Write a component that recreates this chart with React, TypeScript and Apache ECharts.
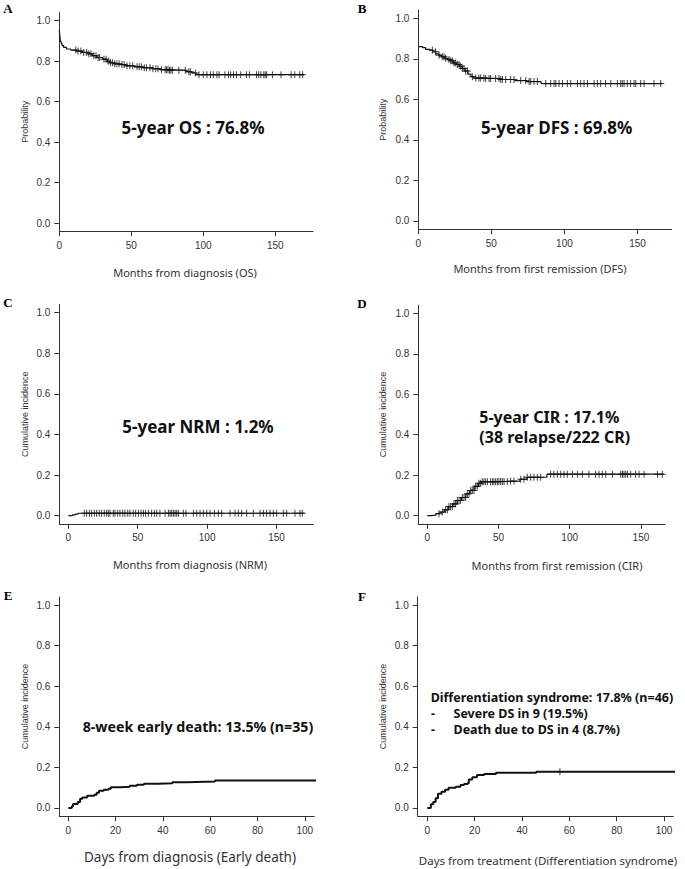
import React, { useEffect, useRef } from "react";
import * as echarts from "echarts";

// ---------- DATA ----------
// A: Overall survival (months from diagnosis)
const osTimes = [0, 0.3, 0.6, 1, 1.5, 2, 3, 5, 8, 12, 16, 20, 23, 26, 30, 33, 35, 38, 42, 46, 52, 58, 65, 70, 76, 88, 92, 95];
const osProb = [0.955, 0.93, 0.91, 0.895, 0.885, 0.877, 0.868, 0.86, 0.855, 0.85, 0.843, 0.836, 0.827, 0.818, 0.81, 0.8, 0.792, 0.787, 0.783, 0.777, 0.772, 0.768, 0.763, 0.758, 0.755, 0.748, 0.742, 0.733];
const osCensor = [11.5, 13, 15, 17, 19, 20.5, 22, 24, 25.5, 27, 28, 31, 32.5, 34, 35.5, 37, 38.5, 40, 41.5, 43.5, 45, 47, 49, 51, 54, 55.5, 57, 59, 60.5, 63, 65, 67, 68.5, 71, 73.5, 74.5, 75.5, 76.5, 77.5, 78.5, 83, 87.5, 90, 91, 94.5, 97, 100, 102.5, 105, 107, 109.5, 111, 115, 117.5, 119, 121, 123, 126, 130, 132, 137, 138.5, 140, 142, 143, 144, 148, 154, 161, 163.5, 167, 169];
const osEnd = 170;

// B: Disease-free survival (months from first remission)
const dfsTimes = [0, 3, 5, 8, 10, 12, 14, 16, 18, 20, 22, 24, 26, 28, 30, 32, 34, 36, 38, 46, 56, 66, 74, 84];
const dfsProb = [0.86, 0.855, 0.847, 0.843, 0.835, 0.825, 0.818, 0.81, 0.803, 0.797, 0.79, 0.78, 0.772, 0.763, 0.752, 0.74, 0.725, 0.712, 0.705, 0.703, 0.698, 0.693, 0.688, 0.678];
const dfsCensor = [9.6, 11.9, 14.2, 16.4, 17.6, 18.7, 21, 22.2, 23.3, 24.4, 25.6, 26.7, 27.9, 29, 30.1, 31.3, 32.4, 33.6, 37, 39.3, 41.5, 42.7, 44.9, 46.1, 48.4, 49.5, 52.9, 55.2, 56.4, 57.5, 59.8, 63.2, 65.5, 70.1, 73.5, 75.8, 76.9, 79.2, 81.5, 87.2, 90.6, 92.9, 94.1, 96.3, 98.6, 102, 104.3, 108.9, 111.1, 113.4, 115.7, 120.3, 122.5, 124.8, 128.2, 131.7, 136.2, 138.5, 139.6, 140.8, 143, 145.3, 147.6, 148.8, 152.2, 154.5, 161.3, 165.9];
const dfsEnd = 167;

// C: Non-relapse mortality (months from diagnosis)
const nrmTimes = [0, 3, 5, 7];
const nrmInc = [0, 0.004, 0.008, 0.012];
const nrmCensor = [11.5, 13.2, 15.2, 16.8, 18.8, 20.4, 22.3, 24, 25.9, 27.6, 28.8, 30, 32.4, 33.6, 35.6, 37.2, 39.2, 40.8, 42.8, 44.4, 46.8, 48.5, 50.5, 52.4, 54.1, 55.7, 57.7, 60, 62, 63.7, 66, 69.7, 72.1, 73.3, 74.5, 75.7, 76.9, 78.1, 79.3, 82.9, 84.8, 90.1, 92.5, 94.9, 97.3, 99.7, 102.1, 105.2, 108.1, 110.5, 116.5, 120.1, 122.5, 124.9, 128.5, 133.3, 138.1, 140.5, 142.9, 145.3, 147.7, 150.1, 154.9, 157.3, 163.3, 166.9, 168.6];
const nrmEnd = 170;

// D: Cumulative incidence of relapse (months from first remission)
const cirTimes = [0, 3, 6, 9, 12, 15, 18, 21, 24, 27, 30, 33, 36, 38, 50, 58, 65, 70, 84];
const cirInc = [0, 0.003, 0.01, 0.018, 0.03, 0.045, 0.058, 0.075, 0.09, 0.108, 0.125, 0.145, 0.16, 0.168, 0.169, 0.171, 0.18, 0.19, 0.205];
const cirCensor = [8.2, 10.6, 12.9, 14.1, 15.2, 16.4, 17.6, 18.8, 19.9, 21.1, 22.3, 23.4, 24.6, 25.8, 26.9, 28.1, 29.3, 30.5, 31.6, 32.8, 34, 35.1, 36.3, 37.5, 38.6, 39.8, 41, 42.2, 44.5, 45.7, 46.8, 48, 49.2, 50.3, 51.5, 52.7, 53.9, 56.2, 58.5, 60.9, 65.6, 67.9, 70.2, 72.6, 74.9, 77.3, 79.6, 86.6, 88.9, 91.3, 93.7, 96, 98.3, 101.9, 105.4, 108.9, 113.5, 118.2, 120.6, 122.9, 125.3, 130, 135.8, 137, 138.1, 139.3, 140.5, 142.8, 146.3, 148.7, 152.2, 161.6, 165];
const cirEnd = 166;

// E: Early death (days from diagnosis)
const edTimes = [0, 1.5, 2, 4, 5, 6, 8, 11, 12, 13, 15, 17, 18, 22, 26, 29, 32, 38, 44, 50, 62];
const edInc = [0, 0.008, 0.02, 0.03, 0.045, 0.052, 0.06, 0.065, 0.075, 0.085, 0.09, 0.095, 0.102, 0.105, 0.11, 0.115, 0.12, 0.122, 0.127, 0.13, 0.135];
const edCensor: number[] = [];
const edEnd = 110;

// F: Differentiation syndrome (days from treatment)
const dsTimes = [0, 1.5, 2.5, 3.5, 4.5, 6, 7.5, 9, 12, 14, 15.5, 17, 17.5, 19, 21, 24, 29, 46];
const dsInc = [0, 0.018, 0.03, 0.048, 0.07, 0.08, 0.09, 0.1, 0.105, 0.113, 0.118, 0.122, 0.14, 0.152, 0.162, 0.167, 0.174, 0.178];
const dsCensor = [56];
const dsEnd = 110;

const yTicks = [0, 0.2, 0.4, 0.6, 0.8, 1.0];
const monthTicks = [0, 50, 100, 150];
const dayTicks = [0, 20, 40, 60, 80, 100];

// ---------- helpers ----------
function stepValue(times: number[], vals: number[], t: number) {
  let v = vals[0];
  for (let i = 0; i < times.length; i++) {
    if (times[i] <= t) v = vals[i];
    else break;
  }
  return v;
}

const PLUS = "path://M3,0 L4,0 L4,3 L7,3 L7,4 L4,4 L4,7 L3,7 L3,4 L0,4 L0,3 L3,3 Z";

type Panel = {
  letter: string;
  lx: number; ly: number;
  left: number; top: number; width: number; height: number;
  xmin: number; xmax: number; xticks: number[];
  times: number[]; vals: number[]; censor: number[]; end: number;
  lineWidth: number;
  yTitle: string; yTitleX: number;
  xTitle: string; xTitleX: number; xTitleY: number; xTitleSize: number;
};

const panels: Panel[] = [
  { letter: "A", lx: 8, ly: 8, left: 59.3, top: 12.6, width: 253.7, height: 218.5, xmin: 0, xmax: 176.2, xticks: monthTicks,
    times: osTimes, vals: osProb, censor: osCensor, end: osEnd, lineWidth: 1.2,
    yTitle: "Probability", yTitleX: 25, xTitle: "Months from diagnosis (OS)", xTitleX: 185, xTitleY: 272, xTitleSize: 11 },
  { letter: "B", lx: 362, ly: 8, left: 418.3, top: 10.2, width: 253.4, height: 218.9, xmin: 0, xmax: 173.4, xticks: monthTicks,
    times: dfsTimes, vals: dfsProb, censor: dfsCensor, end: dfsEnd, lineWidth: 1.2,
    yTitle: "Probability", yTitleX: 383.3, xTitle: "Months from first remission (DFS)", xTitleX: 540, xTitleY: 268.5, xTitleSize: 11 },
  { letter: "C", lx: 8, ly: 302.5, left: 59.3, top: 304.6, width: 254, height: 219.2, xmin: -6.5, xmax: 176.5, xticks: monthTicks,
    times: nrmTimes, vals: nrmInc, censor: nrmCensor, end: nrmEnd, lineWidth: 1.2,
    yTitle: "Cumulative incidence", yTitleX: 25, xTitle: "Months from diagnosis (NRM)", xTitleX: 190, xTitleY: 564, xTitleSize: 11 },
  { letter: "D", lx: 362, ly: 303.5, left: 418.3, top: 305.2, width: 246.7, height: 218.6, xmin: -6.3, xmax: 166.9, xticks: monthTicks,
    times: cirTimes, vals: cirInc, censor: cirCensor, end: cirEnd, lineWidth: 1.2,
    yTitle: "Cumulative incidence", yTitleX: 383.3, xTitle: "Months from first remission (CIR)", xTitleX: 557, xTitleY: 565, xTitleSize: 11 },
  { letter: "E", lx: 8, ly: 595, left: 59.3, top: 596.9, width: 255, height: 219.2, xmin: -3.8, xmax: 104, xticks: dayTicks,
    times: edTimes, vals: edInc, censor: edCensor, end: edEnd, lineWidth: 2,
    yTitle: "Cumulative incidence", yTitleX: 25, xTitle: "Days from diagnosis (Early death)", xTitleX: 190, xTitleY: 856.7, xTitleSize: 13.5 },
  { letter: "F", lx: 362, ly: 596, left: 417.7, top: 596.9, width: 255.6, height: 219.2, xmin: -4.06, xmax: 103.9, xticks: dayTicks,
    times: dsTimes, vals: dsInc, censor: dsCensor, end: dsEnd, lineWidth: 2,
    yTitle: "Cumulative incidence", yTitleX: 383.3, xTitle: "Days from treatment (Differentiation syndrome)", xTitleX: 548, xTitleY: 860, xTitleSize: 11.5 },
];

const TICK_FONT = "'Liberation Sans', Arial, sans-serif";
const TITLE_FONT = "'Noto Sans', 'Open Sans', sans-serif";

function buildOption() {
  const grid: any[] = [];
  const xAxis: any[] = [];
  const yAxis: any[] = [];
  const series: any[] = [];
  const graphic: any[] = [];

  panels.forEach((p, i) => {
    grid.push({ left: p.left, top: p.top, width: p.width, height: p.height, containLabel: false });
    xAxis.push({
      type: "value", gridIndex: i, min: p.xmin, max: p.xmax,
      axisLine: { show: true, onZero: false, lineStyle: { color: "#333", width: 1 } },
      axisTick: { show: true, inside: false, length: 5, customValues: p.xticks, lineStyle: { color: "#333" } },
      axisLabel: { show: true, customValues: p.xticks, margin: 9, color: "#333", fontSize: 10, fontFamily: TICK_FONT },
      splitLine: { show: false },
    });
    yAxis.push({
      type: "value", gridIndex: i, min: -0.04, max: 1.04,
      axisLine: { show: true, onZero: false, lineStyle: { color: "#333", width: 1 } },
      axisTick: { show: true, inside: false, length: 5, customValues: yTicks, lineStyle: { color: "#333" } },
      axisLabel: { show: true, customValues: yTicks, margin: 9, color: "#333", fontSize: 10, fontFamily: TICK_FONT,
        formatter: (v: number) => v.toFixed(1) },
      splitLine: { show: false },
    });
    const lineData = p.times.map((t, k) => [t, p.vals[k]]);
    lineData.push([p.end, p.vals[p.vals.length - 1]]);
    series.push({
      type: "line", xAxisIndex: i, yAxisIndex: i, step: "end", symbol: "none", clip: true,
      data: lineData, lineStyle: { color: "#111", width: p.lineWidth },
    });
    if (p.censor.length) {
      series.push({
        type: "scatter", xAxisIndex: i, yAxisIndex: i, symbol: PLUS, symbolSize: 7, clip: true,
        data: p.censor.map((t) => [t, stepValue(p.times, p.vals, t)]),
        itemStyle: { color: "#111" },
      });
    }
    graphic.push({
      type: "text", x: p.lx, y: p.ly,
      style: { text: p.letter, fontFamily: "'Liberation Serif', 'Times New Roman', serif", fontWeight: "bold", fontSize: 13,
        fill: "#000", align: "center", verticalAlign: "middle" },
    });
    graphic.push({
      type: "text", x: p.yTitleX, y: p.top + p.height / 2, rotation: Math.PI / 2,
      style: { text: p.yTitle, fontFamily: TICK_FONT, fontSize: 9, fill: "#333", align: "center", verticalAlign: "middle" },
    });
    graphic.push({
      type: "text", x: p.xTitleX, y: p.xTitleY,
      style: { text: p.xTitle, fontFamily: TITLE_FONT, fontSize: p.xTitleSize, fill: "#333", align: "center", verticalAlign: "middle" },
    });
  });

  const ann = (text: string, x: number, y: number, size: number, align = "center") => ({
    type: "text", x, y,
    style: { text, fontFamily: TITLE_FONT, fontWeight: "bold", fontSize: size, fill: "#111", align, verticalAlign: "middle" },
  });
  graphic.push(ann("5-year OS : 76.8%", 193, 127, 17));
  graphic.push(ann("5-year DFS : 69.8%", 556.7, 127, 17));
  graphic.push(ann("5-year NRM : 1.2%", 198, 426.7, 17));
  graphic.push(ann("5-year CIR : 17.1%", 479.3, 416.5, 16));
  graphic.push(ann("(38 relapse/222 CR)", 479.3, 436.5, 16, "left"));
  graphic.push(ann("8-week early death: 13.5% (n=35)", 82.7, 726.7, 14.2, "left"));
  graphic.push(ann("Differentiation syndrome: 17.8% (n=46)", 430.7, 697, 12.5, "left"));
  graphic.push(ann("-", 431, 713, 12.5, "left"));
  graphic.push(ann("Severe DS in 9 (19.5%)", 453.5, 713, 12.5, "left"));
  graphic.push(ann("-", 431, 729, 12.5, "left"));
  graphic.push(ann("Death due to DS in 4 (8.7%)", 453.5, 729, 12.5, "left"));
  // left-align CIR first line
  graphic[graphic.length - 8].style.align = "left";

  return {
    animation: false,
    backgroundColor: "#fff",
    grid, xAxis, yAxis, series, graphic,
  };
}

export default function App() {
  const ref = useRef<HTMLDivElement>(null);
  useEffect(() => {
    if (!ref.current) return;
    const chart = echarts.init(ref.current, undefined, { renderer: "svg" });
    chart.setOption(buildOption() as any);
    return () => chart.dispose();
  }, []);
  return (
    <div
      ref={ref}
      style={{ position: "absolute", left: 0, top: 0, width: 685, height: 869, background: "#fff" }}
    />
  );
}
